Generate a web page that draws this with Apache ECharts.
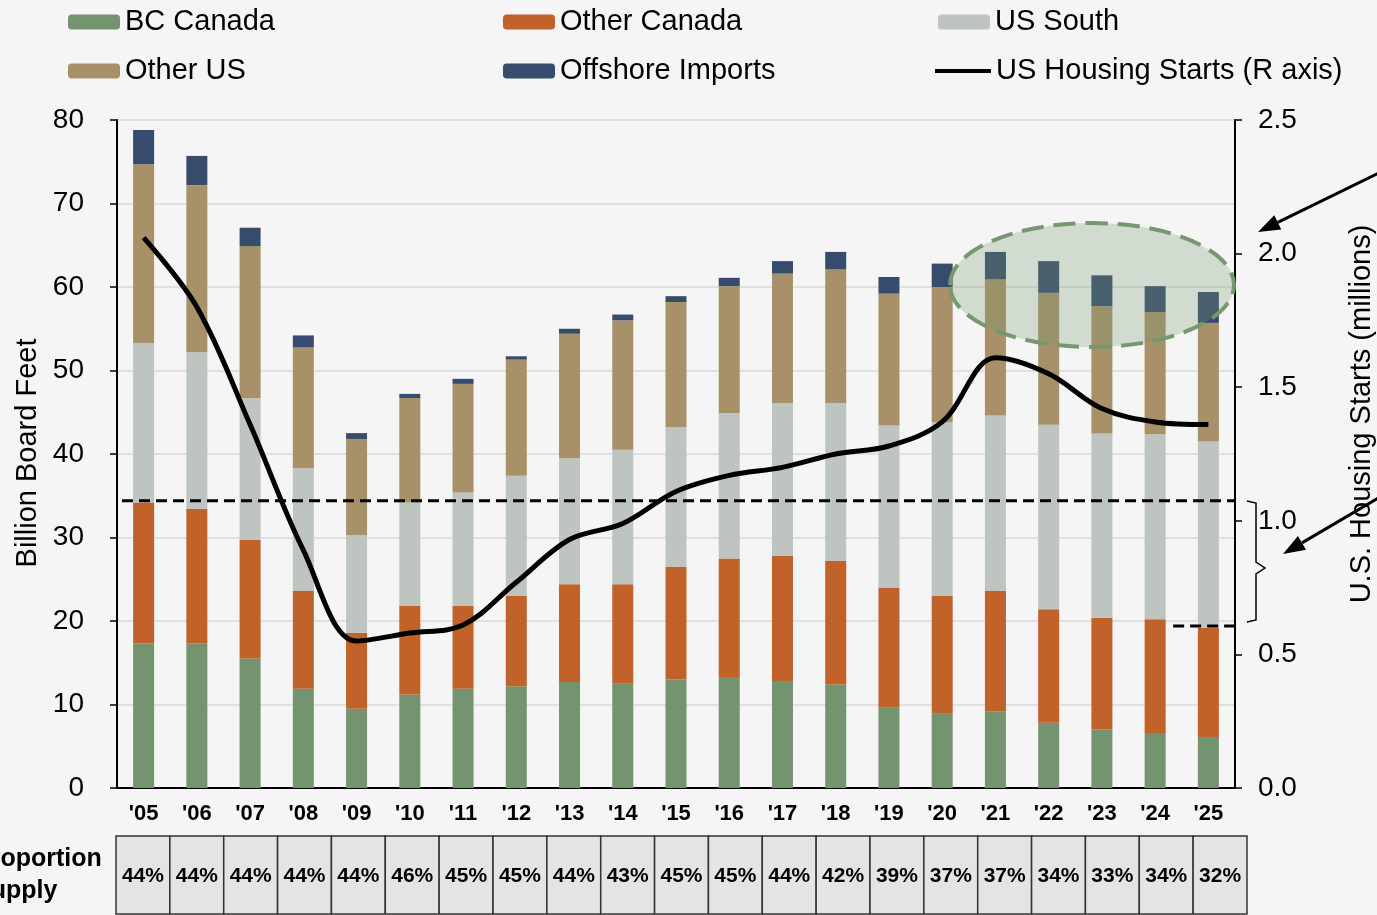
<!DOCTYPE html>
<html>
<head>
<meta charset="utf-8">
<title>Lumber supply by source</title>
<script src="https://cdn.jsdelivr.net/npm/echarts@6/dist/echarts.min.js"></script>
<style>
  html, body { margin: 0; padding: 0; background: #f5f5f5; }
  #chart { width: 1377px; height: 915px; }
</style>
</head>
<body>
<div id="chart"></div>
<script>
const years = ["'05", "'06", "'07", "'08", "'09", "'10", "'11", "'12", "'13", "'14", "'15",
  "'16", "'17", "'18", "'19", "'20", "'21", "'22", "'23", "'24", "'25"];

// billion board feet, stacked bottom to top
const bcCanada = [17.3, 17.3, 15.5, 11.9, 9.5, 11.2, 11.9, 12.2, 12.7, 12.5, 13.0, 13.3, 12.8, 12.4, 9.6, 8.9, 9.2, 7.8, 7.0, 6.6, 6.1];
const otherCanada = [16.9, 16.1, 14.2, 11.7, 9.1, 10.6, 9.9, 10.8, 11.7, 11.9, 13.5, 14.2, 15.0, 14.8, 14.4, 14.1, 14.4, 13.6, 13.4, 13.6, 13.1];
const usSouth = [19.1, 18.8, 17.0, 14.7, 11.7, 12.4, 13.6, 14.4, 15.1, 16.1, 16.7, 17.4, 18.3, 18.9, 19.4, 20.8, 21.0, 22.1, 22.1, 22.2, 22.3];
const otherUS = [21.4, 20.0, 18.2, 14.5, 11.5, 12.5, 13.0, 13.9, 14.9, 15.5, 15.0, 15.2, 15.5, 16.0, 15.8, 16.2, 16.3, 15.8, 15.2, 14.6, 14.2];
const offshore = [4.1, 3.5, 2.2, 1.4, 0.7, 0.5, 0.6, 0.4, 0.6, 0.7, 0.7, 1.0, 1.5, 2.1, 2.0, 2.8, 3.3, 3.8, 3.7, 3.1, 3.7];

// millions (right axis)
const housingStarts = [2.06, 1.80, 1.36, 0.89, 0.55, 0.58, 0.61, 0.77, 0.93, 0.99, 1.11, 1.17, 1.20, 1.25, 1.28, 1.37, 1.61, 1.55, 1.42, 1.37, 1.36];

const supplyShare = ['44%', '44%', '44%', '44%', '44%', '46%', '45%', '45%', '44%', '43%', '45%',
  '45%', '44%', '42%', '39%', '37%', '37%', '34%', '33%', '34%', '32%'];

// dashed reference levels (billion board feet)
const canadaLevels = [34.4, 19.4];

const FONT = "'Liberation Sans', Arial, sans-serif";

const chart = echarts.init(document.getElementById('chart'));

function barSeries(name, data, color) {
  return {
    name: name,
    type: 'bar',
    stack: 'supply',
    data: data,
    barWidth: 21,
    itemStyle: { color: color },
    emphasis: { disabled: true }
  };
}

function legendAt(name, left, top, extra) {
  return Object.assign({
    data: [name],
    left: left,
    top: top,
    padding: 0,
    itemWidth: 52,
    itemHeight: 15,
    selectedMode: false,
    textStyle: { fontSize: 29, color: '#000', fontFamily: FONT, lineHeight: 30 }
  }, extra || {});
}

chart.setOption({
  backgroundColor: '#f5f5f5',
  animation: false,
  textStyle: { fontFamily: FONT },
  legend: [
    legendAt('BC Canada', 68, 7),
    legendAt('Other Canada', 503, 7),
    legendAt('US South', 938, 7),
    legendAt('Other US', 68, 56),
    legendAt('Offshore Imports', 503, 56),
    legendAt('US Housing Starts (R axis)', 935, 56, { itemWidth: 56, itemHeight: 4, icon: 'rect' })
  ],
  grid: { left: 117, right: 142, top: 120, bottom: 127 },
  xAxis: {
    type: 'category',
    data: years,
    axisLine: { lineStyle: { color: '#000', width: 2 } },
    axisTick: { show: false },
    axisLabel: { color: '#000', fontSize: 22, fontWeight: 'bold', margin: 15 }
  },
  yAxis: [
    {
      type: 'value',
      min: 0, max: 80, interval: 10,
      axisLine: { show: true, lineStyle: { color: '#000', width: 2 } },
      axisTick: { show: true, length: 7, lineStyle: { color: '#000', width: 1.5 } },
      axisLabel: { color: '#000', fontSize: 28, margin: 33 },
      splitLine: { lineStyle: { color: '#d9d9d9', width: 1.5 } }
    },
    {
      type: 'value',
      position: 'right',
      min: 0, max: 2.5, interval: 0.5,
      axisLine: { show: true, lineStyle: { color: '#000', width: 2 } },
      axisTick: { show: true, length: 7, lineStyle: { color: '#000', width: 1.5 } },
      axisLabel: { color: '#000', fontSize: 28, margin: 23, formatter: v => v.toFixed(1) },
      splitLine: { show: false }
    }
  ],
  series: [
    barSeries('BC Canada', bcCanada, '#749470'),
    barSeries('Other Canada', otherCanada, '#c0622a'),
    barSeries('US South', usSouth, '#bec5c1'),
    barSeries('Other US', otherUS, '#a89168'),
    barSeries('Offshore Imports', offshore, '#374b6c'),
    {
      name: 'US Housing Starts (R axis)',
      type: 'line',
      yAxisIndex: 1,
      data: housingStarts,
      smooth: 0.35,
      symbol: 'none',
      z: 5,
      lineStyle: { color: '#000', width: 5 },
      itemStyle: { color: '#000' },
      emphasis: { disabled: true }
    }
  ]
});

// annotations: table, titles, dashed levels, ellipse, arrows, bracket
function arrow(x0, y0, x1, y1) {
  const dx = x1 - x0, dy = y1 - y0;
  const len = Math.sqrt(dx * dx + dy * dy);
  const ux = dx / len, uy = dy / len;
  const bx = x1 - ux * 22, by = y1 - uy * 22;
  const px = -uy * 8, py = ux * 8;
  return [
    { type: 'polyline', z: 60, shape: { points: [[x0, y0], [bx, by]] }, style: { stroke: '#000', lineWidth: 3, fill: null } },
    { type: 'polygon', z: 60, shape: { points: [[x1, y1], [bx + px, by + py], [bx - px, by - py]] }, style: { fill: '#000' } }
  ];
}

const gfx = [];
const top0 = chart.convertToPixel({ yAxisIndex: 0 }, canadaLevels[0]);
const top1 = chart.convertToPixel({ yAxisIndex: 0 }, canadaLevels[1]);
const x24 = chart.convertToPixel({ xAxisIndex: 0 }, years[19]);
const xRight = 1235;

gfx.push({ type: 'line', z: 50, shape: { x1: 122, y1: top0, x2: xRight, y2: top0 },
  style: { stroke: '#000', lineWidth: 3, lineDash: [11, 6] } });
gfx.push({ type: 'line', z: 50, shape: { x1: x24 + 18, y1: top1, x2: xRight, y2: top1 },
  style: { stroke: '#000', lineWidth: 3, lineDash: [11, 6] } });

// bracket "}"
gfx.push({ type: 'polyline', z: 50, shape: { points: [[1247, 501], [1256, 503], [1256, 562], [1265, 568], [1256, 574], [1256, 620], [1247, 622]] },
  style: { stroke: '#000', lineWidth: 1.5, fill: null } });

// highlight ellipse
gfx.push({ type: 'ellipse', z: 40, shape: { cx: 1092, cy: 285, rx: 142, ry: 62 },
  style: { fill: 'rgba(118,150,112,0.27)', stroke: '#76986f', lineWidth: 4, lineDash: [22, 10] } });

gfx.push.apply(gfx, arrow(1385, 170, 1258, 232));
gfx.push.apply(gfx, arrow(1385, 494, 1283, 554));

// axis titles
gfx.push({ type: 'text', z: 50, x: 28, y: 453, rotation: Math.PI / 2,
  style: { text: 'Billion Board Feet', fill: '#000', font: '29px ' + FONT, align: 'center', verticalAlign: 'middle' } });
gfx.push({ type: 'text', z: 50, x: 1362, y: 414, rotation: Math.PI / 2,
  style: { text: 'U.S. Housing Starts (millions)', fill: '#000', font: '29px ' + FONT, align: 'center', verticalAlign: 'middle' } });

// proportion table
const tLeft = 116, tRight = 1247, tTop = 836, tH = 78;
const cw = (tRight - tLeft) / supplyShare.length;
supplyShare.forEach(function (s, i) {
  gfx.push({ type: 'rect', z: 50, shape: { x: tLeft + i * cw, y: tTop, width: cw, height: tH },
    style: { fill: '#e4e5e2', stroke: '#333', lineWidth: 1.5 } });
  gfx.push({ type: 'text', z: 51, x: tLeft + (i + 0.5) * cw, y: tTop + 40,
    style: { text: s, fill: '#000', font: 'bold 21px ' + FONT, align: 'center', verticalAlign: 'middle' } });
});
gfx.push({ type: 'text', z: 50, x: -26, y: 859,
  style: { text: 'Proportion', fill: '#000', font: 'bold 25px ' + FONT, align: 'left', verticalAlign: 'middle' } });
gfx.push({ type: 'text', z: 50, x: -26, y: 891,
  style: { text: 'Supply', fill: '#000', font: 'bold 25px ' + FONT, align: 'left', verticalAlign: 'middle' } });

chart.setOption({ graphic: gfx });
</script>
</body>
</html>
